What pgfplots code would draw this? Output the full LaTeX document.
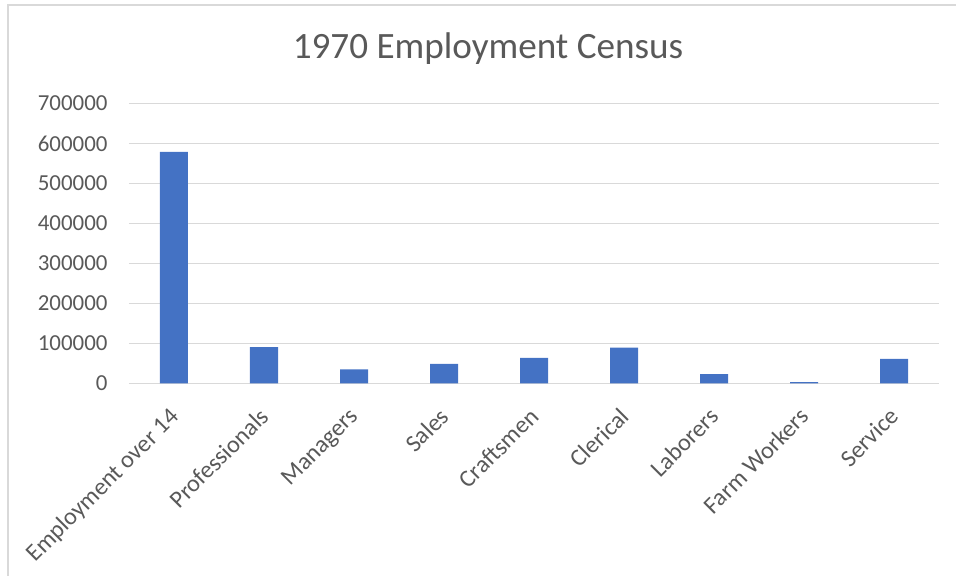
\documentclass[border=0pt]{standalone}
\usepackage{pgfplots}
\pgfplotsset{compat=1.18}
\usetikzlibrary{calc}
\usepackage{fontspec}
\setmainfont{Carlito}
\definecolor{barblue}{HTML}{4472C4}
\definecolor{txtgray}{HTML}{595959}
\definecolor{gridgray}{HTML}{D9D9D9}
\begin{document}
\begin{tikzpicture}[x=1bp,y=1bp]
\begin{axis}[
  scale only axis, width=810bp, height=280bp,
  xmin=-0.5, xmax=8.5, ymin=0, ymax=700000,
  ytick={0,100000,200000,300000,400000,500000,600000,700000},
  yticklabels={0,100000,200000,300000,400000,500000,600000,700000},
  xtick={0,...,8},
  xticklabels={Employment over 14,Professionals,Managers,Sales,Craftsmen,Clerical,Laborers,Farm Workers,Service},
  ybar, bar width=28bp,
  axis x line*=bottom, axis y line*=left,
  y axis line style={draw=none},
  x axis line style={draw=gridgray, line width=1.5bp, -},
  major tick length=0pt,
  ymajorgrids, grid style={draw=gridgray, line width=1.3bp},
  scaled y ticks=false,
  tick label style={txtgray, font=\fontsize{23}{26}\selectfont},
  yticklabel style={anchor=east, xshift=-18bp},
  xticklabel style={rotate=45, anchor=north east, inner sep=0bp, yshift=-12bp, xshift=-20bp, font=\fontsize{24.3}{27}\selectfont},
]
\addplot[fill=barblue, draw=none] coordinates {
  (0,579000) (1,91000) (2,35000) (3,49000) (4,64300) (5,89900) (6,23500) (7,3300) (8,61800)
};
\coordinate (O) at (rel axis cs:0,0);
\end{axis}
\useasboundingbox ($(O)+(-129,-192.5)$) rectangle ($(O)+(827,383.5)$);
\draw[gridgray, line width=1.2bp] ($(O)+(-121,-220)$) -- ($(O)+(-121,378.5)$) -- ($(O)+(870,378.5)$);
\node[txtgray, font=\fontsize{37.3}{42}\selectfont] at ($(O)+(359,335)$) {1970 Employment Census};
\end{tikzpicture}
\end{document}
